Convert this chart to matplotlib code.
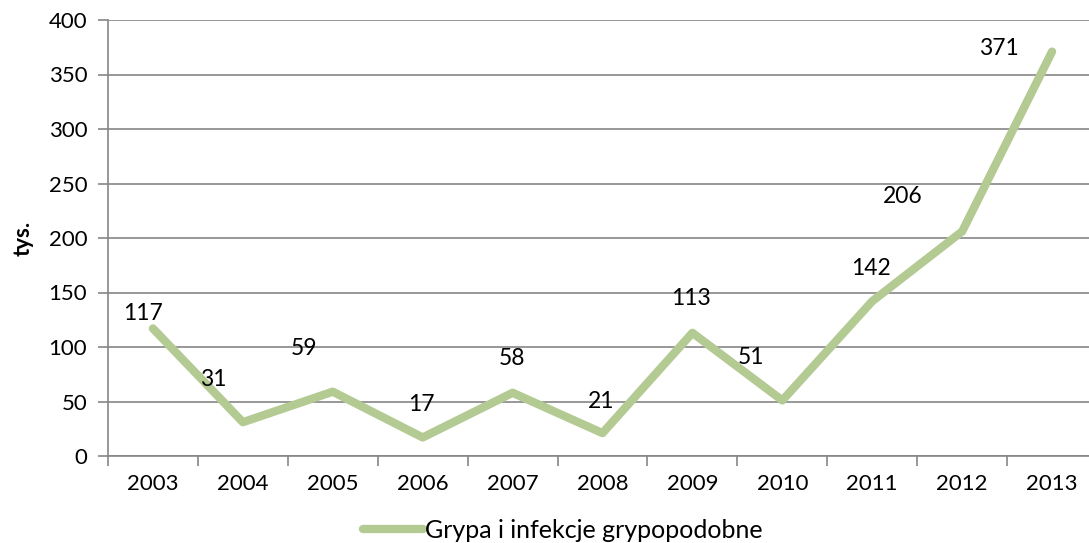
import matplotlib
matplotlib.use("Agg")
import matplotlib.pyplot as plt
from matplotlib.ticker import FixedLocator, NullFormatter

plt.rcParams['font.family'] = ['Lato', 'DejaVu Sans']

years = ["2003", "2004", "2005", "2006", "2007", "2008", "2009", "2010", "2011", "2012", "2013"]
values = [117, 31, 59, 17, 58, 21, 113, 51, 142, 206, 371]
series_name = "Grypa i infekcje grypopodobne"
y_ticks = [0, 50, 100, 150, 200, 250, 300, 350, 400]
# label offsets in pixels (dx, dy)
label_offsets = [(-10, 15), (-30, 43), (-29, 43), (-1, 33), (-1, 34), (-1, 32), (-1, 34), (-31, 43), (-1, 33), (-59, 35), (-53, 3)]

W, H = 1089, 543
fig = plt.figure(figsize=(W / 100, H / 100), dpi=100)
ax = fig.add_axes([108 / W, 1 - 456 / H, (1097 - 108) / W, (456 - 20) / H])

grid_c = "#868686"
line_c = "#B3CA92"
fs = 16
x = list(range(len(years)))

ax.plot(x, values, color=line_c, lw=6, solid_capstyle="round", solid_joinstyle="round", zorder=3)
for xi, v, (dx, dy) in zip(x, values, label_offsets):
    ax.annotate(str(v), (xi, v), xytext=(dx, dy), textcoords="offset pixels",
                ha="center", va="center", fontsize=16.5, color="black", zorder=4)

ax.set_xlim(-0.5, len(years) - 0.5)
ax.set_ylim(0, 400)
ax.set_yticks(y_ticks)
ax.set_yticklabels([str(t) for t in y_ticks])
ax.set_xticks(x)
ax.set_xticklabels(years)
ax.xaxis.set_minor_locator(FixedLocator([i - 0.5 for i in range(len(years) + 1)]))
ax.xaxis.set_minor_formatter(NullFormatter())
ax.tick_params(axis="x", which="major", length=0, pad=13, labelsize=fs)
ax.tick_params(axis="x", which="minor", length=7, width=1.2, color=grid_c, direction="out")
ax.tick_params(axis="y", which="major", length=7, width=1.2, color=grid_c, direction="out", pad=8, labelsize=fs)

ax.grid(axis="y", color=grid_c, lw=1.2, zorder=0)
ax.set_axisbelow(True)
for s in ["top", "right"]:
    ax.spines[s].set_visible(False)
for s in ["left", "bottom"]:
    ax.spines[s].set_color(grid_c)
    ax.spines[s].set_linewidth(1.2)

ax.set_ylabel("tys.", fontsize=fs, fontweight="bold", labelpad=11)

handle, = ax.plot([], [], color=line_c, lw=6, solid_capstyle="round", label=series_name)
fig.legend(handles=[handle], labels=[series_name], loc="center", bbox_to_anchor=(563 / W, 1 - 530 / H),
           frameon=False, fontsize=18, handlelength=2.4, handletextpad=0.1)

fig.savefig("out.png", dpi=100)
